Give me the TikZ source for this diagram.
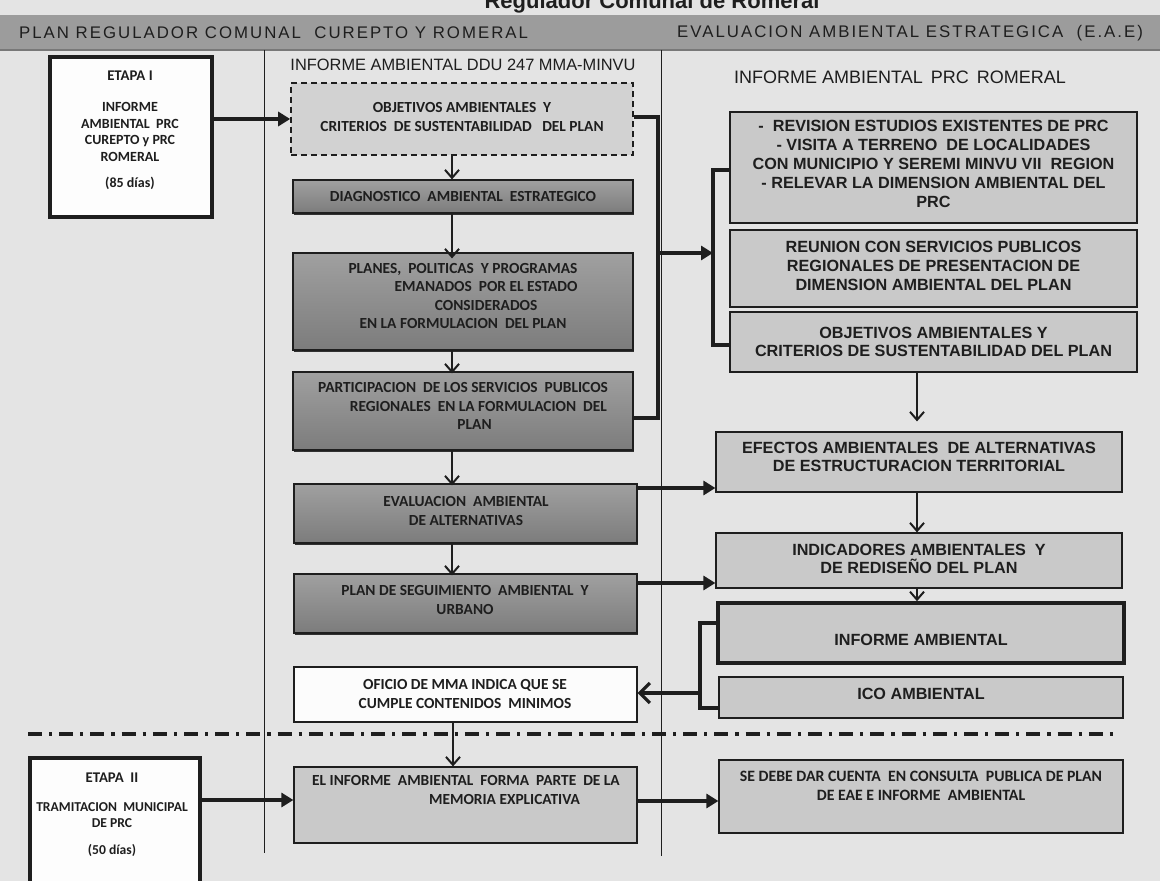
\documentclass[tikz,border=0pt]{standalone}
\usepackage{fontspec}
\usepackage{graphicx}
\setmainfont{Liberation Sans}
\newfontfamily\calfont{Carlito}
\newfontfamily\hdrfont[LetterSpace=12]{Liberation Sans}
\usetikzlibrary{arrows.meta,shadows}
\definecolor{paper}{HTML}{E4E4E4}
\definecolor{band}{HTML}{9C9C9C}
\definecolor{ink}{HTML}{1E1E1E}
\definecolor{darkA}{HTML}{A0A0A0}
\definecolor{darkB}{HTML}{7C7C7C}
\definecolor{lightbox}{HTML}{C9C9C9}
\definecolor{dashbox}{HTML}{D2D2D2}
\begin{document}
\begin{tikzpicture}[x=0.5pt,y=-0.5pt,
  every node/.style={text=ink},
  ctext/.style={font=\calfont\bfseries\fontsize{7.7}{9.2}\selectfont, align=center, inner sep=0pt},
  rtext/.style={font=\bfseries\fontsize{8.1}{9.4}\selectfont, align=center, inner sep=0pt},
  darkbox/.style={draw=ink, line width=0.6pt, top color=darkA, bottom color=darkB, inner sep=0pt,
     drop shadow={shadow xshift=0.4pt, shadow yshift=-1.2pt, fill=ink, opacity=0.9}},
  lbox/.style={draw=ink, line width=0.6pt, fill=lightbox, inner sep=0pt},
  etapa/.style={draw=ink, line width=1.6pt, fill=white!92!paper, inner sep=0pt},
  thin/.style={draw=ink, line width=0.5pt},
  conn/.style={draw=ink, line width=1.6pt},
  varr/.style={draw=ink, line width=0.8pt, -{Straight Barb[length=4pt,width=7pt,line width=1pt]}},
  harr/.style={draw=ink, line width=1.6pt, -{Triangle[length=6pt,width=7pt]}},
]
\useasboundingbox (0,0) rectangle (1160,881);
\fill[paper] (0,0) rectangle (1160,881);
% title (cut off at top)
\node[font=\bfseries\fontsize{11}{13}\selectfont, anchor=base] (title) at (652,9) {Regulador Comunal de Romeral};
% header band
\fill[band] (0,15) rectangle (1160,50);
\draw[ink!60, line width=1pt] (0,50) -- (1160,50);
\node[font=\hdrfont\fontsize{8.4}{10}\selectfont, anchor=west] (hl) at (12,33) {PLAN REGULADOR COMUNAL \ CUREPTO Y ROMERAL};
\node[font=\hdrfont\fontsize{8.4}{10}\selectfont, anchor=east] (hr) at (1150,33) {EVALUACION AMBIENTAL ESTRATEGICA \ (E.A.E)};

% column dividers
\coordinate (d1t) at (264,50); \coordinate (d1b) at (264,853);
\coordinate (d2t) at (661,50); \coordinate (d2b) at (661,856);
\draw[thin] (d1t) -- (d1b);
\draw[thin] (d2t) -- (d2b);

% column headings
\node[font=\fontsize{8.2}{9}\selectfont] (hcen) at (463,65) {INFORME AMBIENTAL DDU 247 MMA-MINVU};
\node[font=\fontsize{9}{11}\selectfont, anchor=west] (hrig) at (727,77) {INFORME AMBIENTAL \,PRC \,ROMERAL};

% ETAPA I
\node[etapa, minimum width=81pt, minimum height=80pt] (et1) at (131,137) {};
\node[ctext, font=\calfont\bfseries\fontsize{7.4}{8.4}\selectfont] (et1a) at (130,76) {ETAPA I};
\node[ctext, font=\calfont\bfseries\fontsize{7}{8.2}\selectfont] (et1b) at (130,132) {INFORME\\AMBIENTAL \ PRC\\CUREPTO y PRC\\ROMERAL};
\node[ctext, font=\calfont\bfseries\fontsize{7}{8}\selectfont] (et1c) at (130,183) {(85 días)};

% centre column
\node[draw=ink, line width=0.8pt, dashed, dash pattern=on 3pt off 2pt, fill=dashbox, minimum width=171pt, minimum height=36pt, inner sep=0pt] (obj) at (462,119) {};
\node[ctext] (objt) at (462,117) {OBJETIVOS AMBIENTALES \ Y\\CRITERIOS \ DE SUSTENTABILIDAD \ \ DEL PLAN};
\node[darkbox, minimum width=170pt, minimum height=16.5pt] (diag) at (463,196.5) {};
\node[ctext] (diagt) at (463,197) {DIAGNOSTICO \ AMBIENTAL \ ESTRATEGICO};
\node[darkbox, minimum width=170pt, minimum height=48.5pt] (plan) at (463,301.5) {};
\node[ctext] (plant) at (463,296) {PLANES, \ POLITICAS \ Y PROGRAMAS\\\hspace*{3em}EMANADOS \ POR EL ESTADO\\\hspace*{3em}CONSIDERADOS\\EN LA FORMULACION \ DEL PLAN};
\node[darkbox, minimum width=170pt, minimum height=39pt] (part) at (463,411) {};
\node[ctext] (partt) at (463,406) {PARTICIPACION \ DE LOS SERVICIOS \ PUBLICOS\\\hspace*{2em}REGIONALES \ EN LA FORMULACION \ DEL\\\hspace*{1.5em}PLAN};
\node[darkbox, minimum width=171.5pt, minimum height=29.5pt] (eval) at (465.5,513.5) {};
\node[ctext] (evalt) at (466,511) {EVALUACION \ AMBIENTAL\\DE ALTERNATIVAS};
\node[darkbox, minimum width=171.5pt, minimum height=29.5pt] (seg) at (465.5,603.5) {};
\node[ctext] (segt) at (465,600) {PLAN DE SEGUIMIENTO \ AMBIENTAL \ Y\\URBANO};
\node[draw=ink, line width=0.6pt, fill=white!90!paper, minimum width=171.5pt, minimum height=27.5pt, inner sep=0pt] (ofi) at (465.5,694.5) {};
\node[ctext] (ofit) at (465,694) {OFICIO DE MMA INDICA QUE SE\\CUMPLE CONTENIDOS \ MINIMOS};
\node[lbox, minimum width=171.5pt, minimum height=38pt] (elinf) at (465.5,805) {};
\node[ctext] (elinft) at (466,790) {EL INFORME \ AMBIENTAL \ FORMA \ PARTE \ DE LA\\\hspace*{5em}MEMORIA EXPLICATIVA};

% ETAPA II
\node[etapa, minimum width=85pt, minimum height=66pt] (et2) at (115,824) {};
\node[ctext, font=\calfont\bfseries\fontsize{7.4}{8.4}\selectfont] (et2a) at (112,778) {ETAPA \ II};
\node[ctext, font=\calfont\bfseries\fontsize{6.8}{8}\selectfont] (et2b) at (112,815) {TRAMITACION \ MUNICIPAL\\DE PRC};
\node[ctext, font=\calfont\bfseries\fontsize{6.8}{8}\selectfont] (et2c) at (112,850) {(50 días)};

% right column
\node[lbox, line width=1.4pt, minimum width=203.5pt, minimum height=55.5pt] (rev) at (933.5,167.5) {};
\node[rtext] (revt) at (933.5,164) {- \ REVISION ESTUDIOS EXISTENTES DE PRC\\- VISITA A TERRENO \ DE LOCALIDADES\\CON MUNICIPIO Y SEREMI MINVU VII \ REGION\\- RELEVAR LA DIMENSION AMBIENTAL DEL\\PRC};
\node[lbox, line width=1.4pt, minimum width=203.5pt, minimum height=38.5pt] (reu) at (933.5,268.5) {};
\node[rtext] (reut) at (933.5,266) {REUNION CON SERVICIOS PUBLICOS\\REGIONALES DE PRESENTACION DE\\DIMENSION AMBIENTAL DEL PLAN};
\node[lbox, minimum width=203.5pt, minimum height=30pt] (objr) at (933.5,342) {};
\node[rtext] (objrt) at (933.5,342) {OBJETIVOS AMBIENTALES Y\\CRITERIOS DE SUSTENTABILIDAD DEL PLAN};
\node[lbox, minimum width=203pt, minimum height=30pt] (efe) at (919,462) {};
\node[rtext] (efet) at (919,457) {EFECTOS AMBIENTALES \ DE ALTERNATIVAS\\DE ESTRUCTURACION TERRITORIAL};
\node[lbox, minimum width=203pt, minimum height=27.5pt] (ind) at (919,560.5) {};
\node[rtext] (indt) at (919,559) {INDICADORES AMBIENTALES \ Y\\DE REDISEÑO DEL PLAN};
\node[lbox, line width=1.8pt, minimum width=203pt, minimum height=30pt] (ia) at (921,633) {};
\node[rtext] (iat) at (921,640) {INFORME AMBIENTAL};
\node[lbox, minimum width=202pt, minimum height=20.5pt] (ico) at (921,697.5) {};
\node[rtext] (icot) at (921,694) {ICO AMBIENTAL};
\node[lbox, minimum width=202pt, minimum height=36.5pt] (sed) at (921,796.5) {};
\node[rtext, font=\calfont\bfseries\fontsize{7.9}{9.2}\selectfont] (sedt) at (921,786) {SE DEBE DAR CUENTA \ EN CONSULTA \ PUBLICA DE PLAN\\DE EAE E INFORME \ AMBIENTAL};

% dash-dot separator
\coordinate (sepl) at (28,734); \coordinate (sepr) at (1118,734);
\draw[ink, line width=1.6pt, dash pattern=on 7pt off 3.5pt on 1.6pt off 3.5pt] (sepl) -- (sepr);

% vertical arrows centre column
\coordinate (vx) at (452,0);
\draw[varr] (obj.south -| vx) -- (diag.north -| vx);
\draw[varr] (diag.south -| vx) -- ([yshift=-3pt]plan.north -| vx);
\draw[varr] (plan.south -| vx) -- ([yshift=-1pt]part.north -| vx);
\draw[varr] (part.south -| vx) -- ([yshift=-1pt]eval.north -| vx);
\draw[varr] (eval.south -| vx) -- ([yshift=-1pt]seg.north -| vx);
\coordinate (vx2) at (453,0);
\draw[varr] (ofi.south -| vx2) -- (elinf.north -| vx2);

% vertical arrows right column
\coordinate (rx) at (917,0);
\draw[varr] (objr.south -| rx) -- ([yshift=5pt]efe.north -| rx);
\draw[varr] (efe.south -| rx) -- (ind.north -| rx);
\draw[varr] (ind.south -| rx) -- (ia.north -| rx);

% horizontal arrows
\draw[harr] (et1.east |- obj.west) -- (obj.west);
\coordinate (ey2) at (0,800);
\draw[harr] (et2.east |- ey2) -- (elinf.west |- ey2);
\coordinate (ey) at (0,801);
\draw[harr] (elinf.east |- ey) -- (sed.west |- ey);

% bracket from centre column to right group
\coordinate (bx) at (658,0);
\coordinate (jy) at (0,253);
\coordinate (py) at (0,418);
\draw[conn] ([yshift=1pt]obj.east) -| (bx |- py) -- (part.east |- py);
\coordinate (b1x) at (713,0);
\coordinate (b1t) at (0,170);
\coordinate (b1b) at (0,345);
\draw[conn] (rev.west |- b1t) -| (b1x |- b1b) -- (objr.west |- b1b);
\draw[harr] (bx |- jy) -- (b1x |- jy);

% arrows to efectos and indicadores
\coordinate (e1) at (0,488);
\coordinate (e2) at (0,583);
\draw[harr] (eval.east |- e1) -- (efe.west |- e1);
\draw[harr] (seg.east |- e2) -- (ind.west |- e2);

% bracket back to oficio
\coordinate (b2x) at (700,0);
\coordinate (b2t) at (0,623);
\coordinate (b2b) at (0,708);
\coordinate (b2a) at (0,693);
\draw[conn] (ia.west |- b2t) -| (b2x |- b2b) -- (ico.west |- b2b);
\draw[draw=ink, line width=1.6pt, -{Straight Barb[length=5pt,width=10pt,line width=1.6pt]}] (b2x |- b2a) -- (ofi.east |- b2a);
\end{tikzpicture}
\end{document}
